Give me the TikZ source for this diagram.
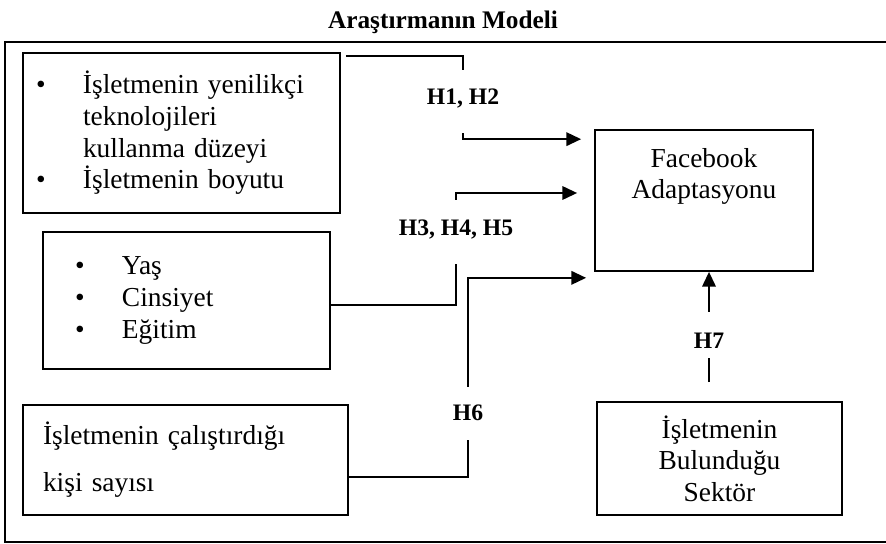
\documentclass[tikz,border=0pt]{standalone}
\usepackage{fontspec}
\setmainfont{Liberation Serif}
\usetikzlibrary{
    arrows.meta,
    calc,
    positioning
}
\newlength{\unitpx}
\setlength{\unitpx}{0.025cm}
\newcommand{\bodyfont}{\fontsize{19.5}{22.5}\selectfont}
\newcommand{\hypfont}{\fontsize{16.8}{20}\selectfont\bfseries}
\newcommand{\bul}{\makebox[47\unitpx][l]{\textbullet}}
\tikzset{
    box/.style={draw, line width=1.2pt, inner sep=0pt, font=\bodyfont},
    hyp/.style={inner sep=0pt, anchor=base, font=\hypfont},
    link/.style={line width=1.6pt},
    arr/.style={line width=1.6pt, -{Triangle[length=10.5pt, width=9.5pt]}}
}

\begin{document}
\begin{tikzpicture}[x=\unitpx, y=-\unitpx]
                                \useasboundingbox (0,0) rectangle (886,544);
                                \draw[line width=1.2pt] (886,42) -- (5,42) -- (5,542) -- (886,542);
                                \node[font=\fontsize{18}{20}\selectfont\bfseries] (title) at (443,22) {Araştırmanın Modeli};
                                \begin{scope}
                                    \node[box, minimum width=317\unitpx, minimum height=160\unitpx, text width=291\unitpx, align=left] (b1) at (181.5,133)
                                        {\bul İşletmenin yenilikçi\\\hspace*{47\unitpx}teknolojileri\\\hspace*{47\unitpx}kullanma düzeyi\\\bul İşletmenin boyutu};
                                    \node[box, minimum width=287\unitpx, minimum height=137\unitpx, text width=223\unitpx, align=left] (b2) at (186.5,300.5)
                                        {\bul Yaş\\\bul Cinsiyet\\\bul Eğitim};
                                    \node[box, minimum width=325\unitpx, minimum height=110\unitpx, text width=285\unitpx, align=left, font=\fontsize{19.5}{33.4}\selectfont] (b3) at (185.5,460)
                                        {İşletmenin çalıştırdığı\\kişi sayısı};
                                    \node[box, minimum width=218\unitpx, minimum height=141\unitpx] (fb) at (704,200.5)
                                        {\parbox[c][141\unitpx][t]{218\unitpx}{\centering\vspace*{18\unitpx}Facebook\\Adaptasyonu}};
                                    \node[box, minimum width=245\unitpx, minimum height=113\unitpx, text width=245\unitpx, align=center] (sec) at (719.5,458.5)
                                        {İşletmenin\\Bulunduğu\\Sektör};
                                \end{scope}
                                \node[hyp, text height=24.9pt, text depth=19.9pt] (h12) at (463,105) {H1, H2};
                                \node[hyp, text height=24.9pt, text depth=20.6pt] (h345) at (456,235) {H3, H4, H5};
                                \node[hyp, text height=23.5pt, text depth=14.2pt] (h6) at (468,420) {H6};
                                \node[hyp, text height=25.6pt, text depth=7.1pt] (h7) at (709,348) {H7};
                                \draw[link] ($(b1.north east)+(5,4)$) -| (h12.north);
                                \draw[arr] (h12.south) |- ($(fb.north west)+(-13,10)$);
                                \draw[link] ($(b2.east)+(0,4.5)$) -| (h345.south);
                                \draw[arr] (h345.north) |- ($(fb.west)+(-17,-7.5)$);
                                \draw[link] ($(b3.east)+(0,17)$) -| (h6.south);
                                \draw[arr] (h6.north) |- ($(fb.south west)+(-8,6)$);
                                \draw[link] ($(sec.north)+(-10.5,-19)$) -- (h7.south);
                                \draw[arr] (h7.north) -- (h7.north |- fb.south);
                            \end{tikzpicture}
\end{document}
